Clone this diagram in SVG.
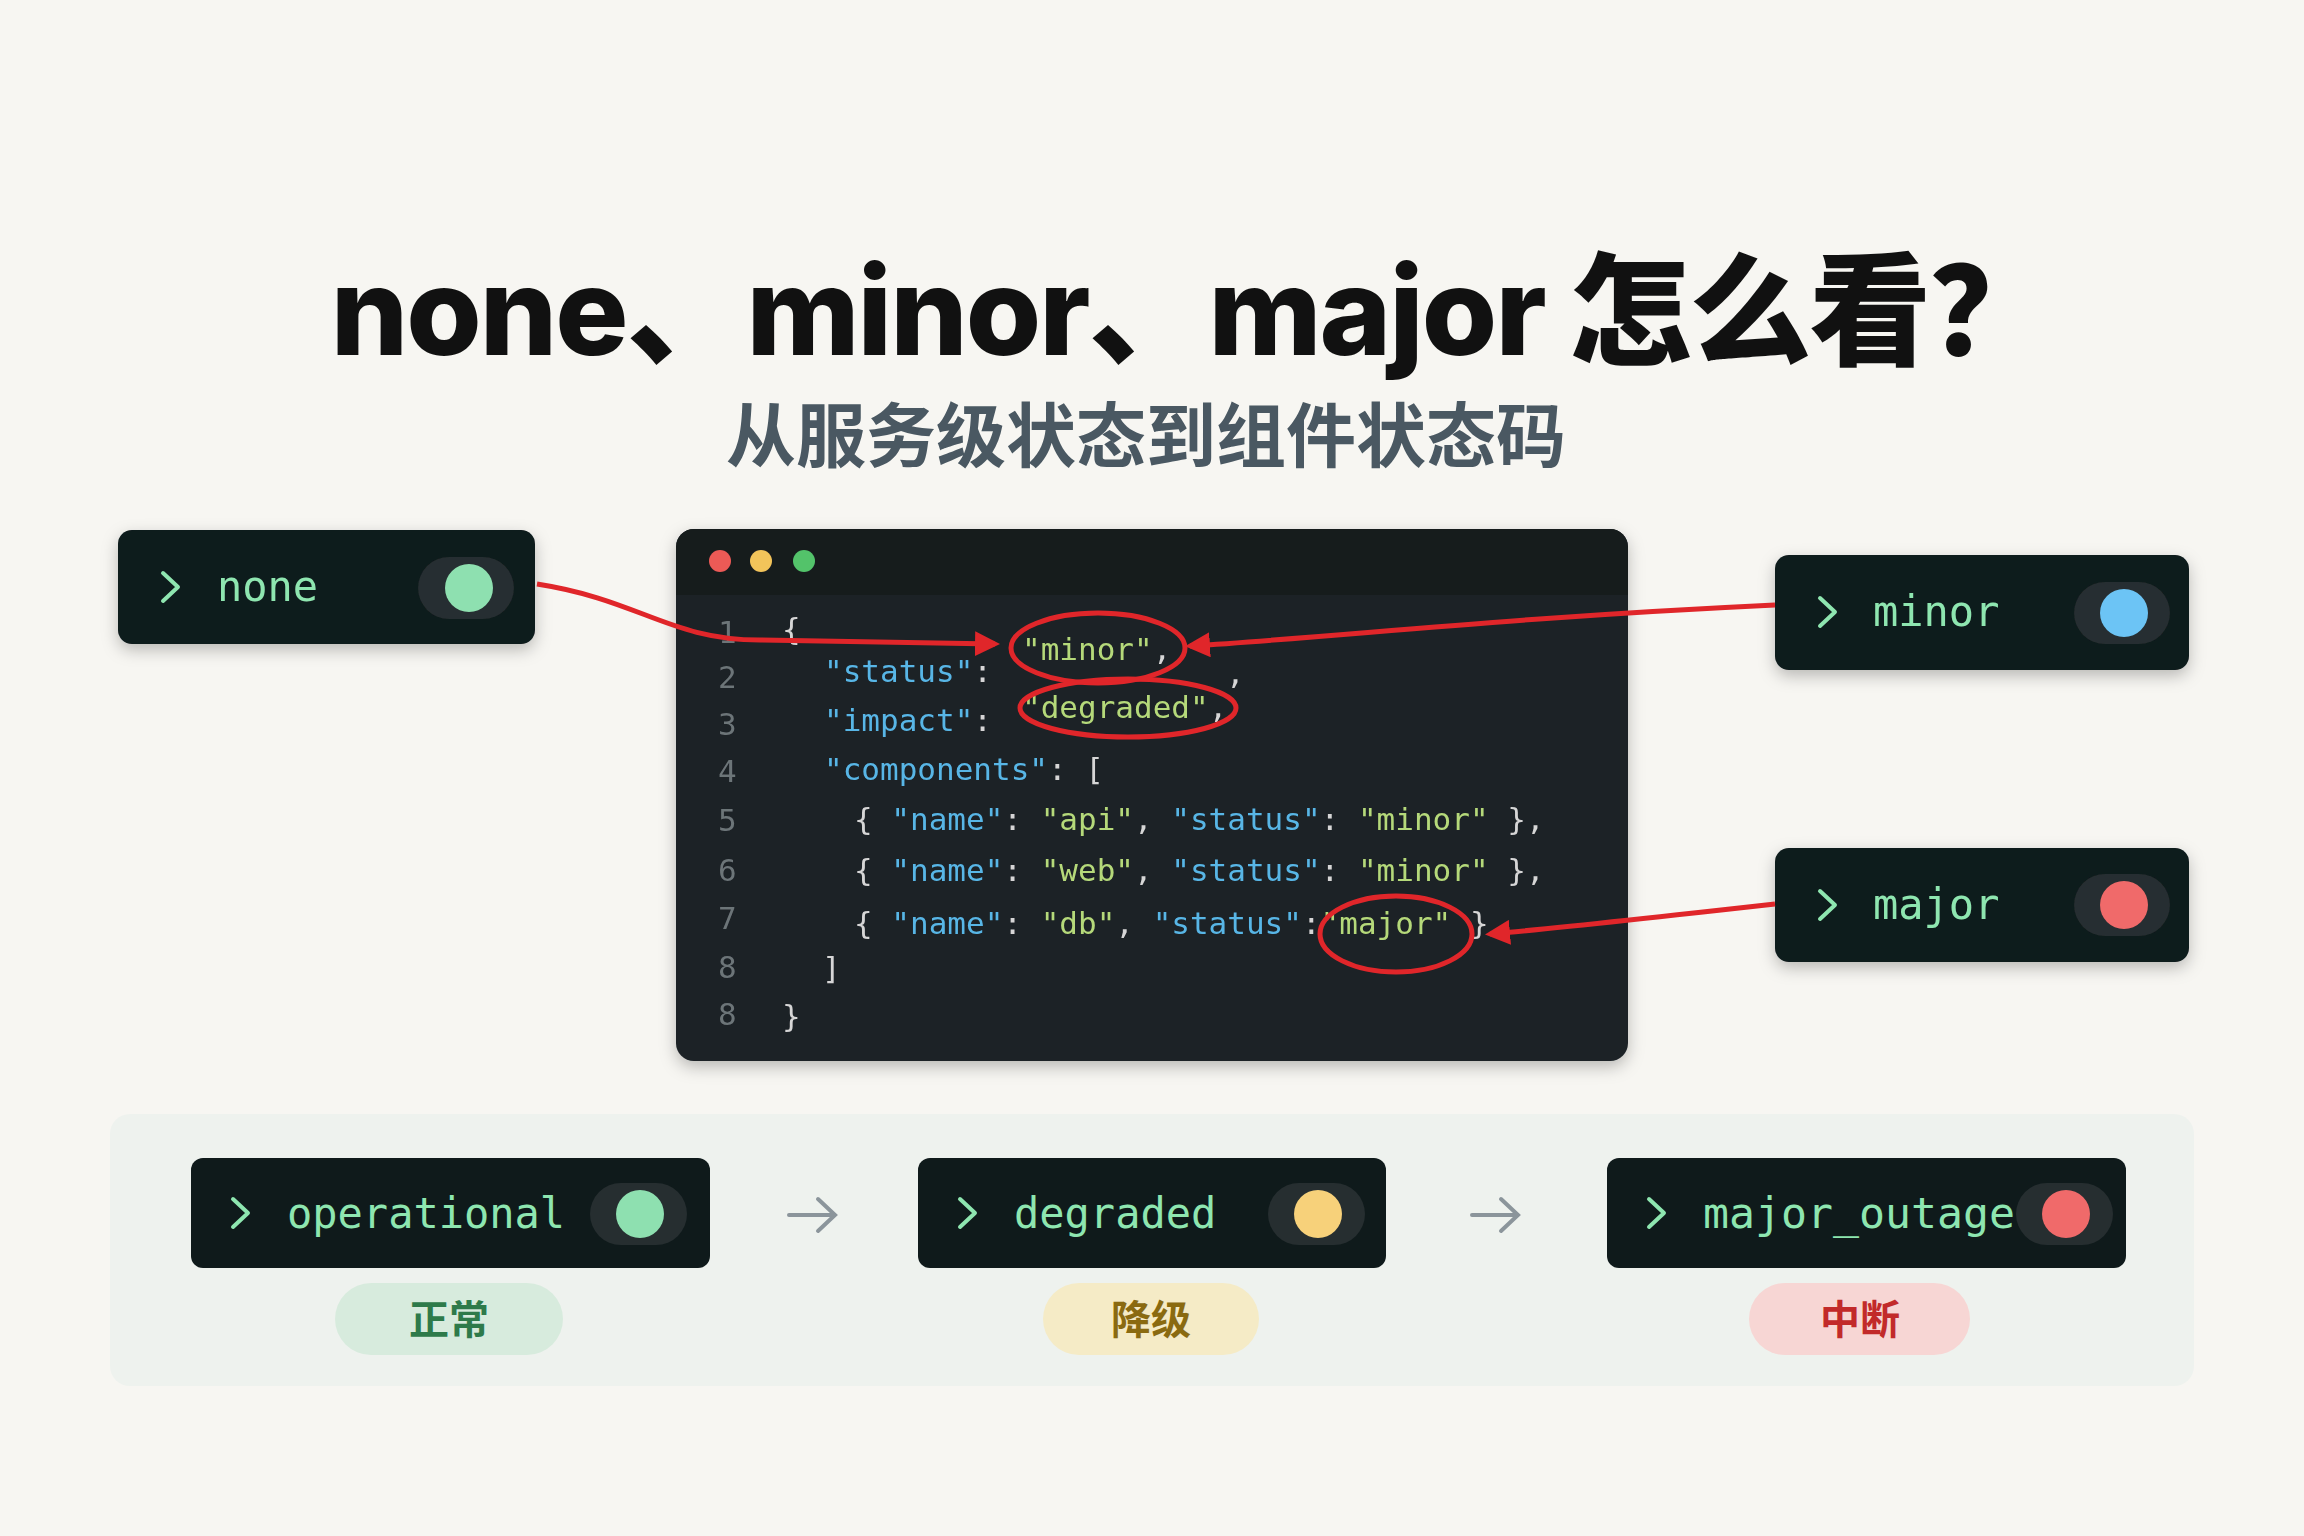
<svg xmlns="http://www.w3.org/2000/svg" width="2304" height="1536" viewBox="0 0 2304 1536">
<defs>
<style>
.node{fill:#0f1a1b}
.lbl{font-family:"DejaVu Sans Mono","Liberation Mono",monospace;font-size:42px;fill:#8ee6b0}
.chev{fill:none;stroke:#8ee6b0;stroke-width:4;stroke-linecap:round;stroke-linejoin:round}
.pill{fill:#262e30}
.code{font-family:"DejaVu Sans Mono","Liberation Mono",monospace;font-size:31px;fill:#d6d6d6}
.ln{fill:#6c7478}
.k{fill:#58b6e6}
.s{fill:#b5d97a}
.red{fill:none;stroke:#e0262a;stroke-width:5}
.cn{font-family:"Noto Sans CJK SC",sans-serif;font-weight:700;font-size:40px}
</style>
<marker id="ah" viewBox="0 0 10 10" refX="8" refY="5" markerWidth="5" markerHeight="5" orient="auto"><path d="M0,0 L10,5 L0,10 z" fill="#e0262a"/></marker>
<filter id="sh" x="-10%" y="-10%" width="120%" height="130%"><feDropShadow dx="0" dy="6" stdDeviation="8" flood-opacity="0.25"/></filter>
</defs>
<rect width="2304" height="1536" fill="#f7f6f2"/>
<text x="1190" y="355" text-anchor="middle" font-family="Inter,'Noto Sans CJK SC',sans-serif" font-weight="800" font-size="122" letter-spacing="-2" fill="#111">none、minor、major 怎么看？</text>
<text x="1146" y="462" text-anchor="middle" font-family="'Noto Sans CJK SC',sans-serif" font-weight="700" font-size="70" fill="#4a5862">从服务级状态到组件状态码</text>

<g id="code-panel" filter="url(#sh)">
<rect x="676" y="529" width="952" height="532" rx="18" fill="#1b2025"/>
<path d="M676,595 V547 a18,18 0 0 1 18,-18 H1610 a18,18 0 0 1 18,18 V595 z" fill="#171b1f"/>
<circle cx="720" cy="561" r="11" fill="#ec5a56"/><circle cx="761" cy="561" r="11" fill="#f2c45a"/><circle cx="804" cy="561" r="11" fill="#52c36a"/>
<g class="code">
<text x="718" y="643" class="ln">1</text><text x="718" y="688" class="ln">2</text><text x="718" y="735" class="ln">3</text><text x="718" y="782" class="ln">4</text><text x="718" y="831" class="ln">5</text><text x="718" y="881" class="ln">6</text><text x="718" y="929" class="ln">7</text><text x="718" y="978" class="ln">8</text><text x="718" y="1025" class="ln">8</text>
<text x="782" y="640">{</text>
<text x="1022" y="660"><tspan class="s">"minor"</tspan>,</text>
<text x="824" y="682"><tspan class="k">"status"</tspan>:</text><text x="1226" y="684">,</text>
<text x="824" y="731"><tspan class="k">"impact"</tspan>:</text>
<text x="1022" y="718"><tspan class="s">"degraded"</tspan>,</text>
<text x="824" y="780"><tspan class="k">"components"</tspan>: [</text>
<text x="854" y="830">{ <tspan class="k">"name"</tspan>: <tspan class="s">"api"</tspan>, <tspan class="k">"status"</tspan>: <tspan class="s">"minor"</tspan> },</text>
<text x="854" y="881">{ <tspan class="k">"name"</tspan>: <tspan class="s">"web"</tspan>, <tspan class="k">"status"</tspan>: <tspan class="s">"minor"</tspan> },</text>
<text x="854" y="934">{ <tspan class="k">"name"</tspan>: <tspan class="s">"db"</tspan>, <tspan class="k">"status"</tspan>:<tspan class="s">"major"</tspan> }</text>
<text x="822" y="979">]</text>
<text x="782" y="1027">}</text>
</g>
</g>

<g id="node-none" filter="url(#sh)"><rect class="node" x="118" y="530" width="417" height="114" rx="14"/><path class="chev" d="M163,573 l15,14 l-15,14"/><text class="lbl" x="217" y="601">none</text><rect class="pill" x="418" y="557" width="96" height="62" rx="31"/><circle cx="469" cy="588" r="24" fill="#8ee0b0"/></g>
<g id="node-minor" filter="url(#sh)"><rect class="node" x="1775" y="555" width="414" height="115" rx="14"/><path class="chev" d="M1820,598 l15,14 l-15,14"/><text class="lbl" x="1873" y="626">minor</text><rect class="pill" x="2074" y="582" width="96" height="62" rx="31"/><circle cx="2124" cy="613" r="24" fill="#6cc4f5"/></g>
<g id="node-major" filter="url(#sh)"><rect class="node" x="1775" y="848" width="414" height="114" rx="14"/><path class="chev" d="M1820,891 l15,14 l-15,14"/><text class="lbl" x="1873" y="919">major</text><rect class="pill" x="2074" y="874" width="96" height="62" rx="31"/><circle cx="2124" cy="905" r="24" fill="#f06a6a"/></g>

<g id="connectors">
<path class="red" d="M537,584 C640,600 670,640 760,640 L995,644" marker-end="url(#ah)"/>
<path class="red" d="M1775,605 C1500,618 1350,636 1190,646" marker-end="url(#ah)"/>
<path class="red" d="M1775,904 C1650,918 1560,928 1490,934" marker-end="url(#ah)"/>
<ellipse class="red" cx="1098" cy="648" rx="87" ry="35"/>
<ellipse class="red" cx="1128" cy="708" rx="108" ry="29"/>
<ellipse class="red" cx="1396" cy="934" rx="76" ry="38"/>
</g>

<g id="status-band">
<rect x="110" y="1114" width="2084" height="272" rx="20" fill="#eef2ee"/>
<path d="M789,1215 h45 M818,1199 l17,16 l-17,16" fill="none" stroke="#8b959b" stroke-width="4" stroke-linecap="round"/>
<path d="M1472,1215 h45 M1501,1199 l17,16 l-17,16" fill="none" stroke="#8b959b" stroke-width="4" stroke-linecap="round"/>
</g>
<g id="node-operational"><rect class="node" x="191" y="1158" width="519" height="110" rx="12"/><path class="chev" d="M233,1199 l15,14 l-15,14"/><text class="lbl" x="287" y="1228">operational</text><rect class="pill" x="590" y="1183" width="97" height="62" rx="31"/><circle cx="640" cy="1214" r="24" fill="#8ee0b0"/>
<rect x="335" y="1283" width="228" height="72" rx="36" fill="#d7ebdd"/><text class="cn" x="449" y="1334" text-anchor="middle" fill="#2e7a4a">正常</text></g>
<g id="node-degraded"><rect class="node" x="918" y="1158" width="468" height="110" rx="12"/><path class="chev" d="M960,1199 l15,14 l-15,14"/><text class="lbl" x="1014" y="1228">degraded</text><rect class="pill" x="1268" y="1183" width="97" height="62" rx="31"/><circle cx="1318" cy="1214" r="24" fill="#f7d17a"/>
<rect x="1043" y="1283" width="216" height="72" rx="36" fill="#f5ebc6"/><text class="cn" x="1151" y="1334" text-anchor="middle" fill="#8a6a10">降级</text></g>
<g id="node-major-outage"><rect class="node" x="1607" y="1158" width="519" height="110" rx="12"/><rect class="pill" x="2016" y="1183" width="97" height="62" rx="31"/><path class="chev" d="M1649,1199 l15,14 l-15,14"/><text class="lbl" x="1703" y="1228" textLength="312" lengthAdjust="spacingAndGlyphs">major_outage</text><circle cx="2066" cy="1214" r="24" fill="#f06a6a"/>
<rect x="1749" y="1283" width="221" height="72" rx="36" fill="#f7d6d4"/><text class="cn" x="1860" y="1334" text-anchor="middle" fill="#c22a2a">中断</text></g>
</svg>
